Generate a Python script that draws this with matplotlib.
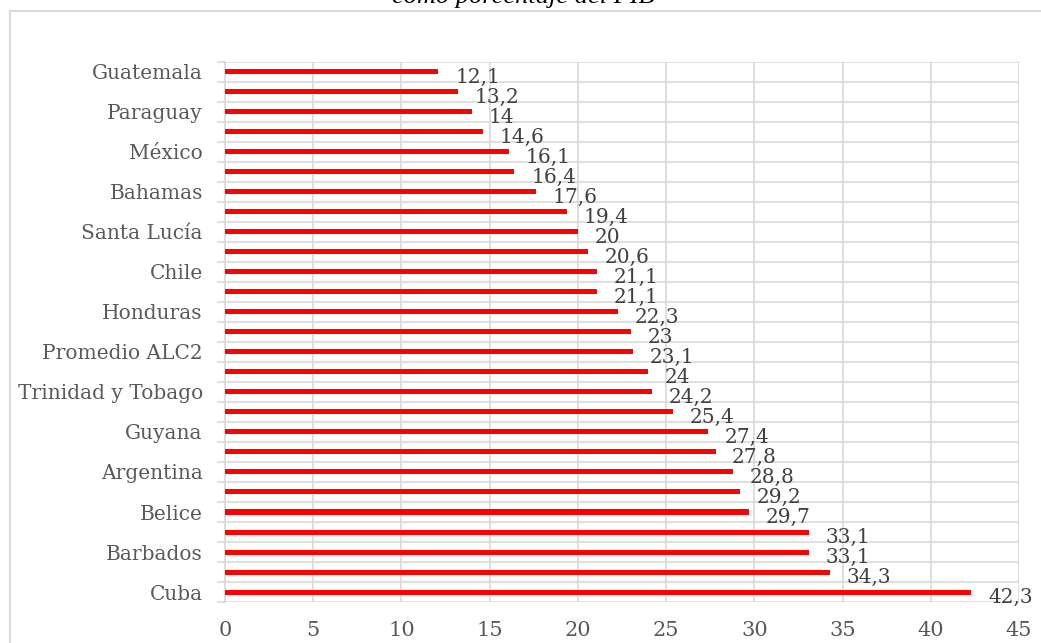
import matplotlib.pyplot as plt
from matplotlib.patches import Rectangle
import numpy as np

# carga tributaria como porcentaje del PIB, de menor a mayor
paises = ["Guatemala", "Rep. Dominicana", "Paraguay", "Panamá", "México", "Perú",
          "Bahamas", "Colombia", "Santa Lucía", "El Salvador", "Chile", "Costa Rica",
          "Honduras", "Ecuador", "Promedio ALC2", "Jamaica", "Trinidad y Tobago",
          "Bolivia", "Guyana", "Nicaragua", "Argentina", "Uruguay", "Belice",
          "Brasil", "Barbados", "Promedio OCDE", "Cuba"]
valores = [12.1, 13.2, 14, 14.6, 16.1, 16.4, 17.6, 19.4, 20, 20.6, 21.1, 21.1,
           22.3, 23, 23.1, 24, 24.2, 25.4, 27.4, 27.8, 28.8, 29.2, 29.7,
           33.1, 33.1, 34.3, 42.3]

W, H = 1041, 643
fig = plt.figure(figsize=(W / 100, H / 100), dpi=100)
ax = fig.add_axes([225 / W, 1 - 602 / H, (1019 - 225) / W, (602 - 62) / H])

gris = "#d9d9d9"
texto = "#595959"
fuente = "DejaVu Serif"

y = np.arange(len(paises))
ax.barh(y, valores, height=0.25, color="#ff0000", zorder=3)

for yi, v in zip(y, valores):
    etiqueta = f"{v:g}".replace(".", ",")
    ax.annotate(etiqueta, (v, yi), xytext=(12, -8), textcoords="offset points",
                ha="left", va="baseline", fontsize=14.5, color="#404040",
                family=fuente, zorder=4, annotation_clip=False)

ax.set_xlim(0, 45)
ax.set_ylim(len(paises) - 0.5, -0.5)
ax.set_xticks(np.arange(0, 46, 5))
ax.set_yticks(y[::2])
ax.set_yticklabels(paises[::2])
ax.set_yticks(np.arange(-0.5, len(paises), 1), minor=True)

ax.grid(axis="x", color=gris, lw=1.2, zorder=0)
ax.grid(axis="y", which="minor", color=gris, lw=1.2, zorder=0)
ax.tick_params(axis="y", which="major", length=0, pad=16)
ax.tick_params(axis="y", which="minor", length=6, color=gris, width=1.2)
ax.tick_params(axis="x", length=0, pad=14)
for lab in ax.get_xticklabels():
    lab.set_fontsize(15)
for lab in ax.get_yticklabels():
    lab.set_fontsize(14.5)
for lab in ax.get_xticklabels() + ax.get_yticklabels():
    lab.set_color(texto)
    lab.set_family(fuente)
for s in ["top", "right", "bottom"]:
    ax.spines[s].set_visible(False)
ax.spines["left"].set_color(gris)
ax.spines["left"].set_linewidth(1.2)

# marco del gráfico
fig.patches.append(Rectangle((10 / W, -0.05), 1.2, 1 - 11 / H + 0.05,
                             transform=fig.transFigure, fill=False,
                             edgecolor=gris, lw=1.5))

fig.text(523 / W, 1 - 3 / H, "como porcentaje del PIB", ha="center", va="baseline",
         fontsize=19, style="italic", family="Liberation Serif", color="black")

fig.savefig("out.png", dpi=100)
